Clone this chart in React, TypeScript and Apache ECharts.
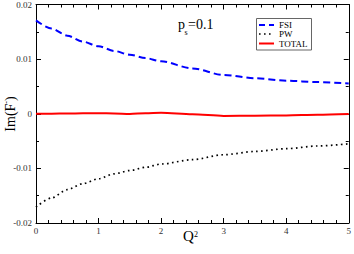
import React, { useEffect, useRef } from "react";
import * as echarts from "echarts";

const qValues = [0, 0.25, 0.5, 0.75, 1, 1.25, 1.5, 1.75, 2, 2.5, 3, 3.5, 4, 4.5, 5];
const fsiValues = [0.0171, 0.0156, 0.0143, 0.0132, 0.01235, 0.0115, 0.0108, 0.0102, 0.0096, 0.0083, 0.0071, 0.0065, 0.00605, 0.0058, 0.00555];
const pwValues = [-0.0171, -0.0154, -0.0139, -0.0128, -0.0119, -0.011, -0.0104, -0.0098, -0.0092, -0.0084, -0.0075, -0.0069, -0.0064, -0.0059, -0.0055];
const totalValues = [0.0, 0.00002, 0.00005, 0.00008, 0.0001, 0.00005, -0.00003, 0.0001, 0.0002, -0.0001, -0.0004, -0.00035, -0.0003, -0.0002, -0.00005];
const legendNames = ["FSI", "PW", "TOTAL"];
const xTicks = [0, 1, 2, 3, 4, 5];

const FONT = "'Liberation Serif', 'DejaVu Serif', serif";

export default function App() {
  const ref = useRef<HTMLDivElement>(null);
  useEffect(() => {
    if (!ref.current) return;
    const chart = echarts.init(ref.current, null, { renderer: "svg" });
    const toPairs = (ys: number[]) => qValues.map((q, i) => [q, ys[i]]);
    const axisCommon = {
      type: "value" as const,
      axisLine: { show: true, onZero: false, lineStyle: { color: "#000", width: 1 } },
      axisTick: { show: true, inside: true, length: 5, lineStyle: { color: "#000" } },
      minorTick: { show: true, length: 3, lineStyle: { color: "#000" } },
      splitLine: { show: false },
    };
    chart.setOption({
      animation: false,
      backgroundColor: "#fff",
      grid: { left: 36, right: 3, top: 4, bottom: 31 },
      xAxis: [
        {
          ...axisCommon,
          min: 0,
          max: 5,
          interval: 1,
          minorTick: { ...axisCommon.minorTick, splitNumber: 5 },
          axisLabel: {
            color: "#333",
            fontFamily: FONT,
            fontSize: 9,
            margin: 3,
            formatter: (v: number) => (xTicks.includes(v) ? String(v) : ""),
          },
        },
        {
          ...axisCommon,
          position: "top",
          min: 0,
          max: 5,
          interval: 1,
          minorTick: { ...axisCommon.minorTick, splitNumber: 5 },
          axisLabel: { show: false },
        },
      ],
      yAxis: [
        {
          ...axisCommon,
          min: -0.02,
          max: 0.02,
          interval: 0.01,
          minorTick: { ...axisCommon.minorTick, splitNumber: 2 },
          axisLabel: {
            color: "#333",
            fontFamily: FONT,
            fontSize: 9,
            margin: 4,
            formatter: (v: number) => (Math.abs(v) < 1e-9 ? "0" : v.toFixed(2)),
          },
        },
        {
          ...axisCommon,
          position: "right",
          min: -0.02,
          max: 0.02,
          interval: 0.01,
          minorTick: { ...axisCommon.minorTick, splitNumber: 2 },
          axisLabel: { show: false },
        },
      ],
      series: [
        {
          name: legendNames[0],
          type: "line",
          data: toPairs(fsiValues),
          smooth: 0.3,
          smoothMonotone: "x",
          showSymbol: false,
          lineStyle: { color: "#0000ff", width: 2, type: [7, 4] },
        },
        {
          name: legendNames[1],
          type: "line",
          data: toPairs(pwValues),
          smooth: 0.3,
          smoothMonotone: "x",
          showSymbol: false,
          lineStyle: { color: "#000", width: 1.7, type: [1.6, 3.4] },
        },
        {
          name: legendNames[2],
          type: "line",
          data: toPairs(totalValues),
          smooth: 0.3,
          smoothMonotone: "x",
          showSymbol: false,
          lineStyle: { color: "#ff0000", width: 2 },
        },
      ],
      graphic: [
        {
          type: "text",
          x: 10,
          y: 114,
          rotation: Math.PI / 2,
          style: {
            text: "Im(F{s|-})",
            font: `14px ${FONT}`,
            fill: "#000",
            align: "center",
            verticalAlign: "middle",
            rich: { s: { fontSize: 8, fontFamily: FONT, verticalAlign: "top", padding: [0, 0, 8, 0] } },
          },
        },
        {
          type: "text",
          x: 183,
          y: 243,
          style: { text: "Q", font: `15px ${FONT}`, fill: "#000", align: "left", verticalAlign: "bottom" },
        },
        {
          type: "text",
          x: 194,
          y: 238,
          style: { text: "2", font: `8px ${FONT}`, fill: "#000", align: "left", verticalAlign: "bottom" },
        },
        {
          type: "text",
          x: 178,
          y: 31,
          style: { text: "p", font: `14px ${FONT}`, fill: "#000", align: "left", verticalAlign: "bottom" },
        },
        {
          type: "text",
          x: 184.5,
          y: 36,
          style: { text: "s", font: `8px ${FONT}`, fill: "#000", align: "left", verticalAlign: "bottom" },
        },
        {
          type: "text",
          x: 188,
          y: 31,
          style: { text: "=0.1", font: `14px ${FONT}`, fill: "#000", align: "left", verticalAlign: "bottom" },
        },
        {
          type: "rect",
          shape: { x: 256.5, y: 18.5, width: 55, height: 31.5 },
          style: { fill: "#fff", stroke: "#666", lineWidth: 1 },
        },
        {
          type: "line",
          shape: { x1: 259, y1: 25, x2: 274, y2: 25 },
          style: { stroke: "#0000ff", lineWidth: 2, lineDash: [6, 4] },
        },
        {
          type: "line",
          shape: { x1: 259, y1: 34, x2: 274, y2: 34 },
          style: { stroke: "#000", lineWidth: 1.7, lineDash: [1.6, 3.4] },
        },
        {
          type: "line",
          shape: { x1: 259, y1: 43.5, x2: 274, y2: 43.5 },
          style: { stroke: "#ff0000", lineWidth: 2 },
        },
        ...legendNames.map((n, i) => ({
          type: "text",
          x: 279,
          y: [25, 34, 43.5][i],
          style: { text: n, font: `9px ${FONT}`, fill: "#000", align: "left", verticalAlign: "middle" },
        })),
      ],
    });
    return () => chart.dispose();
  }, []);
  return <div ref={ref} style={{ width: 354, height: 254, position: "absolute", left: 0, top: 0 }} />;
}
